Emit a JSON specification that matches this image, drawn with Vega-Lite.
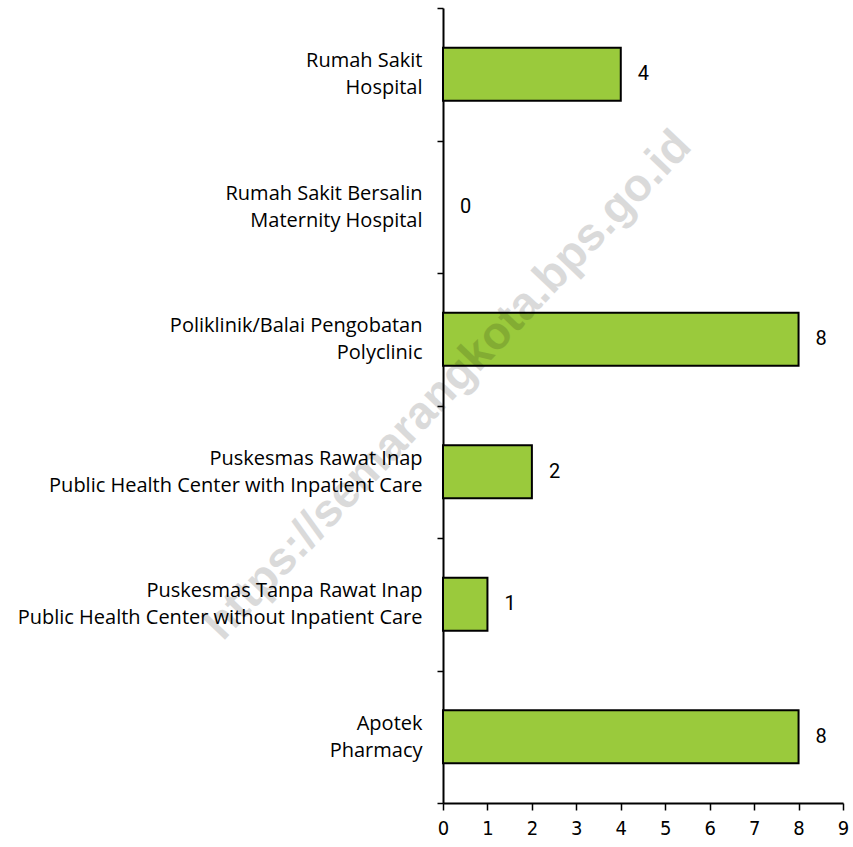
{
  "$schema": "https://vega.github.io/schema/vega-lite/v6.json",
  "width": 400,
  "height": 795,
  "autosize": "none",
  "padding": {"left": 443, "top": 8, "right": 10, "bottom": 44},
  "config": {
    "view": {"stroke": null},
    "axis": {"domainColor": "black", "tickColor": "black", "grid": false, "title": null}
  },
  "datasets": {
    "facilities": [
      {"category": "Rumah Sakit|Hospital", "count": 4},
      {"category": "Rumah Sakit Bersalin|Maternity Hospital", "count": 0},
      {"category": "Poliklinik/Balai Pengobatan|Polyclinic", "count": 8},
      {"category": "Puskesmas Rawat Inap|Public Health Center with Inpatient Care", "count": 2},
      {"category": "Puskesmas Tanpa Rawat Inap|Public Health Center without Inpatient Care", "count": 1},
      {"category": "Apotek|Pharmacy", "count": 8}
    ],
    "watermark": [
      {"text": "https://semarangkota.bps.go.id", "count": 0.1, "category": "Poliklinik/Balai Pengobatan|Polyclinic"}
    ]
  },
  "layer": [
    {
      "data": {"name": "facilities"},
      "mark": {"type": "bar", "fill": "#9ACA3C", "stroke": "black", "strokeWidth": 2, "height": {"band": 0.4}},
      "encoding": {
        "y": {
          "field": "category", "type": "nominal", "sort": null,
          "scale": {"paddingInner": 0, "paddingOuter": 0},
          "axis": {
            "tickBand": "extent",
            "domainWidth": 2,
            "tickWidth": 1.5,
            "tickSize": 6,
            "labelExpr": "split(datum.label, '|')",
            "labelFont": "Open Sans",
            "labelFontSize": 20,
            "labelColor": "black",
            "labelLineHeight": 27,
            "labelAlign": "right",
            "labelBaseline": "middle",
            "labelLimit": 500,
            "labelPadding": 15,
            "labelOffset": -13.5
          }
        },
        "x": {
          "field": "count", "type": "quantitative",
          "scale": {"domain": [0, 9], "nice": false},
          "axis": {
            "values": [0, 1, 2, 3, 4, 5, 6, 7, 8, 9],
            "domainWidth": 2,
            "tickWidth": 1.5,
            "tickSize": 7,
            "labelFont": "DejaVu Sans Condensed",
            "labelFontSize": 20,
            "labelColor": "black",
            "labelPadding": 8,
            "labelFlush": false
          }
        },
        "strokeOpacity": {"condition": {"test": "datum.count == 0", "value": 0}, "value": 1}
      }
    },
    {
      "data": {"name": "facilities"},
      "mark": {"type": "text", "align": "left", "baseline": "middle", "dx": 17, "font": "Roboto", "fontSize": 20, "color": "black"},
      "encoding": {
        "y": {"field": "category", "type": "nominal", "sort": null},
        "x": {"field": "count", "type": "quantitative"},
        "text": {"field": "count", "type": "quantitative"}
      }
    },
    {
      "data": {"name": "watermark"},
      "mark": {"type": "text", "align": "center", "baseline": "middle", "angle": -46.4, "font": "Liberation Sans", "fontWeight": "bold", "fontSize": 46, "color": "black", "opacity": 0.14, "dx": -33, "dy": 32},
      "encoding": {
        "y": {"field": "category", "type": "nominal", "sort": null},
        "x": {"field": "count", "type": "quantitative"},
        "text": {"field": "text"}
      }
    }
  ]
}
